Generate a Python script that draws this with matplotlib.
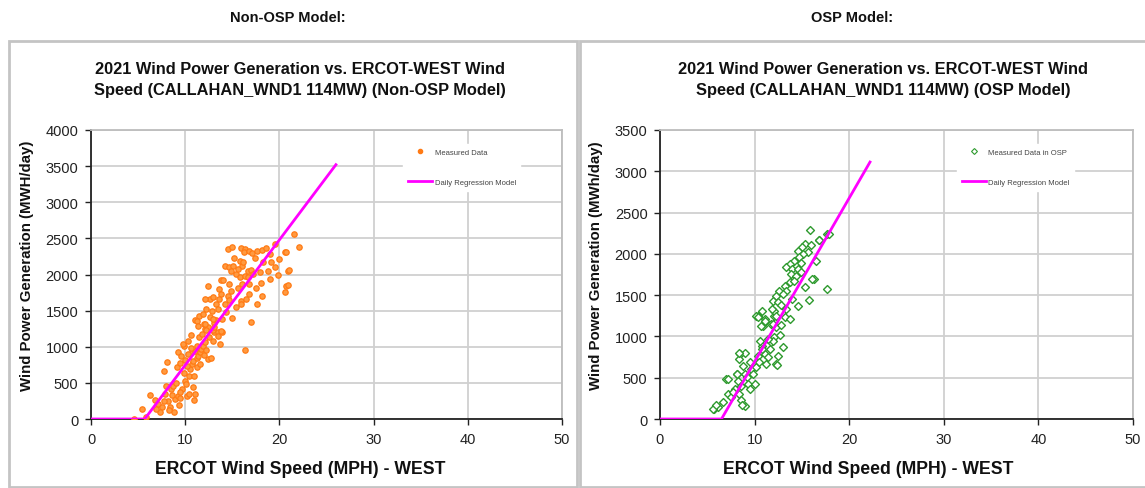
import matplotlib
matplotlib.use("Agg")
import matplotlib.pyplot as plt
from matplotlib.patches import Rectangle
from matplotlib.lines import Line2D

plt.rcParams['font.family'] = ['Liberation Sans', 'DejaVu Sans']

# ---------------- data ----------------
panel_titles = ["Non-OSP Model:", "OSP Model:"]
chart_titles = ["2021 Wind Power Generation vs. ERCOT-WEST Wind\nSpeed (CALLAHAN_WND1 114MW) (Non-OSP Model)",
                "2021 Wind Power Generation vs. ERCOT-WEST Wind\nSpeed (CALLAHAN_WND1 114MW) (OSP Model)"]
y_labels = ["Wind Power Generation (MWH/day)", "Wind Power Generation (MWh/day)"]
x_label = "ERCOT Wind Speed (MPH) - WEST"
legend_scatter = ["Measured Data", "Measured Data in OSP"]
legend_line = "Daily Regression Model"

x_ticks = [0, 10, 20, 30, 40, 50]
y_ticks_nonosp = [0, 500, 1000, 1500, 2000, 2500, 3000, 3500, 4000]
y_ticks_osp = [0, 500, 1000, 1500, 2000, 2500, 3000, 3500]

nonosp_speed = [4.6, 5.8, 5.4, 6.3, 6.8, 7.1, 7.5, 7.8, 8.1, 8.2, 8.4, 8.5, 8.7, 8.8, 8.9, 9.0, 9.1, 9.25,
                9.4, 9.2, 9.6, 9.9, 10.0, 10.1, 10.2, 10.4, 10.5, 10.7, 10.8, 10.9, 11.0, 9.8, 10.3, 10.7,
                10.8, 11.0, 11.2, 11.4, 11.6, 11.7, 11.9, 12.1, 12.4, 12.7, 12.9, 13.1, 13.0, 13.7, 13.5,
                13.9, 11.0, 12.1, 12.4, 13.1, 13.3, 9.5, 10.0, 10.3, 10.6, 10.2, 9.9, 10.4, 11.3, 10.9,
                11.6, 12.0, 11.2, 12.2, 11.5, 11.8, 12.5, 10.6, 12.0, 13.5, 7.9, 8.3, 8.6, 9.3, 9.7, 9.5,
                8.0, 7.3, 6.9, 7.7,
                14.55, 15.95, 16.3, 16.2, 16.8, 17.1, 17.6, 18.2, 19.5, 20.55, 21.6, 22.1, 14.2, 14.65,
                15.1, 15.8, 16.0, 16.1, 14.9, 15.4, 15.6, 15.8, 16.3, 16.7, 17.0, 17.2, 16.7, 17.9, 18.25,
                18.8, 18.95, 19.1, 19.5, 20.9, 20.7, 20.55, 13.8, 12.4, 13.6, 14.7, 14.9, 15.6, 16.0, 16.8,
                17.5, 18.1, 16.8, 15.95, 16.5, 14.55, 14.65, 13.8, 13.6, 12.6, 12.1, 12.95, 13.3, 14.2,
                15.4, 15.95, 17.0, 12.25, 12.8, 13.5, 11.5, 11.9, 12.6, 11.2, 11.4, 12.95, 12.1, 13.1,
                13.8, 12.25, 20.7, 20.9, 21.05, 16.3, 14.0, 15.2, 17.4, 19.0, 18.6, 15.0, 20.0, 19.8,
                14.3, 15.0, 13.9, 18.0, 17.6]
nonosp_gen = [0, 30, 140, 335, 260, 205, 160, 670, 785, 255, 160, 415, 460, 90, 275, 505, 715, 325,
              285, 925, 875, 1015, 530, 485, 315, 345, 690, 760, 440, 265, 345, 1040, 1085, 925,
              805, 945, 840, 875, 925, 970, 1015, 1060, 830, 840, 1085, 1200, 1225, 1040, 1210,
              1210, 1370, 1245, 1270, 1330, 1370, 780, 820, 900, 980, 740, 640, 600, 720, 600,
              760, 880, 1010, 960, 1130, 1180, 1130, 1160, 1320, 1150, 350, 120, 330, 200, 420, 380,
              460, 90, 140, 250,
              2355, 2365, 2355, 2305, 2320, 2295, 2330, 2340, 2420, 2310, 2560, 2375, 2120, 2100,
              2120, 2190, 2120, 2170, 2055, 2005, 2075, 1960, 1985, 2055, 2060, 2005, 1960, 2030, 2170,
              2055, 1940, 2170, 2100, 2055, 1845, 1755, 1925, 1845, 1800, 1870, 1775, 1820, 1870, 1870,
              1820, 1705, 1730, 1640, 1660, 1705, 1645, 1730, 1660, 1660, 1660, 1685, 1590, 1590,
              1545, 1590, 1340, 1520, 1500, 1520, 1430, 1455, 1415, 1360, 1290, 1385, 1315, 1270,
              1215, 1225, 2315, 1850, 2060, 950, 1920, 2230, 2230, 2280, 2370, 2385, 2220, 2000,
              1480, 1400, 1380, 1880, 1590]

osp_speed = [5.7, 6.1, 6.7, 7.2, 7.5, 7.0, 7.9, 8.1, 8.25, 8.6, 8.4, 8.95, 8.8, 8.95, 9.2, 9.3, 9.5, 9.65,
             10.0, 9.8, 8.5, 8.4, 9.0, 9.5, 10.2, 10.35, 10.5, 10.8, 11.05, 11.2, 11.4, 11.6, 11.75, 10.6,
             10.8, 12.3, 12.5, 12.1, 11.9, 11.4, 10.9, 11.1, 11.75, 12.0, 12.3, 10.35, 10.8, 12.1, 12.7,
             5.56, 5.9, 7.15, 8.4, 8.56, 8.7, 7.7, 8.1, 12.4, 12.95, 10.2,
             15.9, 17.7, 16.85, 15.3, 16.0, 15.0, 14.6, 15.6, 15.1, 14.7, 14.2, 14.9, 16.5, 13.7, 13.35,
             14.0, 14.6, 14.9, 13.9, 14.4, 16.3, 17.7, 13.7, 13.2, 14.2, 15.3, 13.35, 12.6, 13.0, 12.3,
             15.8, 14.0, 11.9, 12.45, 12.8, 14.6, 11.8, 13.35, 10.35, 12.3, 13.2, 11.05, 13.7, 10.7,
             11.9, 12.8, 16.8, 17.9, 16.1]
osp_gen = [120, 140, 210, 305, 265, 485, 365, 545, 460, 405, 305, 160, 645, 545, 505, 425, 365, 605,
           425, 545, 785, 725, 805, 685, 625, 765, 685, 890, 785, 665, 745, 845, 930, 950,
           845, 665, 765, 990, 950, 970, 1130, 1210, 1150, 1250, 1110, 1250, 1310, 1310, 1015,
           121, 170, 490, 795, 230, 170, 330, 550, 660, 875, 1245,
           2290, 2240, 2170, 2120, 2105, 2085, 2040, 2020, 2000, 1960, 1915, 1895, 1915, 1875, 1835,
           1815, 1815, 1775, 1755, 1735, 1695, 1575, 1655, 1615, 1675, 1595, 1555, 1555, 1515, 1495,
           1445, 1455, 1435, 1415, 1380, 1370, 1330, 1330, 1230, 1250, 1230, 1190, 1210, 1130,
           1150, 1140, 2165, 2240, 1700]

nonosp_model_speed = [0, 5.7, 26.0]
nonosp_model_gen = [0, 0, 3520]
osp_model_speed = [0, 6.5, 22.2]
osp_model_gen = [0, 0, 3112]

# ---------------- figure ----------------
W, H = 1145, 489
fig = plt.figure(figsize=(W / 100, H / 100), dpi=100)

def fx(px):
    return px / W

def fy(py):
    return 1 - py / H

# panel borders
for (x0, x1) in [(9, 577), (580, 1146)]:
    fig.patches.append(Rectangle((fx(x0), fy(488)), fx(x1 - x0), (488 - 42) / H,
                                 transform=fig.transFigure, fill=False,
                                 edgecolor='#c4c4c4', linewidth=2.0, zorder=0))

orange = '#ff7a14'
green = '#2e9a2e'
magenta = '#ff00ff'

configs = [
    dict(ax_px=(91, 562), yt=y_ticks_nonosp, ymax=4000, xs=nonosp_speed, ys=nonosp_gen,
         ms=nonosp_model_speed, mg=nonosp_model_gen, head_x=288, title_x=300, ylab_x=27, xlab_x=300,
         leg=(0.655, 0.965)),
    dict(ax_px=(660, 1133), yt=y_ticks_osp, ymax=3500, xs=osp_speed, ys=osp_gen,
         ms=osp_model_speed, mg=osp_model_gen, head_x=852, title_x=883, ylab_x=596, xlab_x=868,
         leg=(0.62, 0.965)),
]

for i, c in enumerate(configs):
    l, r = c['ax_px']
    ax = fig.add_axes([fx(l), fy(420), fx(r - l), (420 - 131) / H])
    ax.set_xlim(0, 50)
    ax.set_ylim(0, c['ymax'])
    ax.set_xticks(x_ticks)
    ax.set_yticks(c['yt'])
    ax.grid(True, color='#d0d0d0', linewidth=1.3)
    ax.set_axisbelow(True)
    for s in ['top', 'right']:
        ax.spines[s].set_color('#bdbdbd')
        ax.spines[s].set_linewidth(1.3)
    for s in ['left', 'bottom']:
        ax.spines[s].set_color('#222222')
        ax.spines[s].set_linewidth(1.3)
    ax.tick_params(axis='both', direction='out', length=4, width=1, color='#222222',
                   labelsize=10.5, labelcolor='#222222', pad=5)

    if i == 0:
        ax.scatter(c['xs'], c['ys'], s=15, marker='o', facecolor='#ff9a40',
                   edgecolor=orange, linewidths=0.9, zorder=3)
        sc_handle = Line2D([], [], linestyle='none', marker='o', markersize=3,
                           markerfacecolor=orange, markeredgecolor=orange)
    else:
        ax.scatter(c['xs'], c['ys'], s=16, marker='D', facecolor='white',
                   edgecolor=green, linewidths=1.0, zorder=3)
        sc_handle = Line2D([], [], linestyle='none', marker='D', markersize=3,
                           markerfacecolor='white', markeredgecolor=green, markeredgewidth=0.8)
    ax.plot(c['ms'], c['mg'], color=magenta, linewidth=2.0, zorder=4)
    ln_handle = Line2D([], [], color=magenta, linewidth=2.0)

    leg = ax.legend([sc_handle, ln_handle], [legend_scatter[i], legend_line],
                    loc='upper left', bbox_to_anchor=c['leg'], fontsize=5.5,
                    frameon=True, framealpha=1, edgecolor='white', facecolor='white',
                    labelspacing=3.0, handlelength=3.2, handletextpad=0.3, borderpad=0.6)
    for t in leg.get_texts():
        t.set_color('#444444')

    fig.text(fx(c['head_x']), fy(18), panel_titles[i], ha='center', va='center',
             fontsize=10.5, fontweight='bold', color='#111111')
    fig.text(fx(c['title_x']), fy(80), chart_titles[i], ha='center', va='center',
             fontsize=11.8, fontweight='bold', color='#111111', linespacing=1.45)
    fig.text(fx(c['ylab_x']), fy(266), y_labels[i], ha='center', va='center', rotation=90,
             fontsize=10.8, fontweight='bold', color='#111111')
    fig.text(fx(c['xlab_x']), fy(470), x_label, ha='center', va='center',
             fontsize=12.7, fontweight='bold', color='#111111')

fig.savefig('out.png', dpi=100, facecolor='white')
